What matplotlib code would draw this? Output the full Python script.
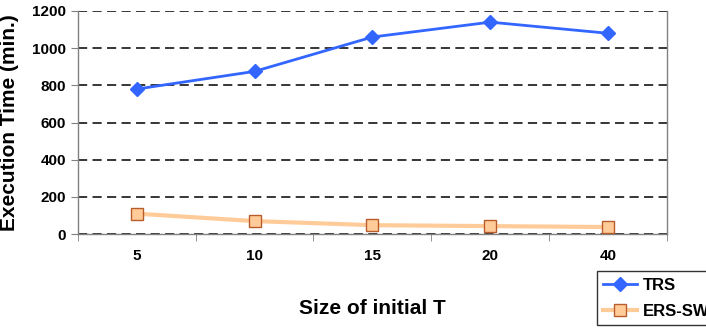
import matplotlib.pyplot as plt
import numpy as np

plt.rcParams["font.family"] = ["Liberation Sans", "DejaVu Sans"]

# Execution time (minutes) per size of initial T
sizes = ["5", "10", "15", "20", "40"]
trs = [780, 875, 1060, 1140, 1080]
ers_sw = [110, 70, 48, 43, 38]

fig = plt.figure(figsize=(7.06, 3.33), dpi=100)
ax = fig.add_axes([0.110, 0.297, 0.835, 0.670])

x = np.arange(len(sizes))
ax.plot(x, trs, color="#3366FF", lw=2, marker="D", markersize=7,
        markerfacecolor="#3366FF", markeredgecolor="#3366FF", label="TRS", zorder=3)
ax.plot(x, ers_sw, color="#FFCC99", lw=3, marker="s", markersize=9,
        markerfacecolor="#FFCC99", markeredgecolor="#B85C2A", markeredgewidth=1,
        label="ERS-SW", zorder=3)

ax.set_xlim(-0.5, len(sizes) - 0.5)
ax.set_ylim(0, 1200)
ax.set_yticks(range(0, 1201, 200))
ax.yaxis.grid(True, color="black", linestyle=(0, (6, 3.5)), lw=1.1)
ax.set_axisbelow(True)

# category labels centred, tick marks on the boundaries
ax.set_xticks(x)
ax.set_xticklabels(sizes, fontweight="bold", fontsize=11)
ax.set_xticks(np.arange(-0.5, len(sizes)), minor=True)
ax.tick_params(axis="x", which="major", length=0, pad=11)
ax.tick_params(axis="x", which="minor", length=5, color="#808080", direction="out")
ax.tick_params(axis="y", length=5, color="#808080", labelsize=11)
for lbl in ax.get_yticklabels():
    lbl.set_fontweight("bold")

for side in ["left", "bottom", "right"]:
    ax.spines[side].set_color("#808080")
    ax.spines[side].set_linewidth(1)
ax.spines["top"].set_visible(False)

ax.set_ylabel("Execution Time (min.)", fontsize=15, fontweight="bold")
ax.yaxis.set_label_coords(-0.100, 0.5)
ax.set_xlabel("Size of initial T", fontsize=15, fontweight="bold")
ax.xaxis.set_label_coords(0.5, -0.29)

fig.legend(loc="upper left", bbox_to_anchor=(0.845, 0.186), frameon=True,
           fancybox=False, edgecolor="black",
           prop={"weight": "bold", "size": 12}, handlelength=2.0,
           handletextpad=0.4, borderpad=0.4,
           borderaxespad=0, labelspacing=0.65)

fig.savefig("out.png", dpi=100)
